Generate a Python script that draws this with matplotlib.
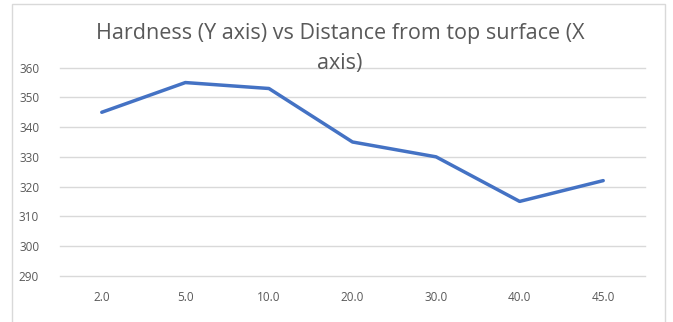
import matplotlib.pyplot as plt
from matplotlib.patches import Rectangle

distance_labels = ["2.0", "5.0", "10.0", "20.0", "30.0", "40.0", "45.0"]
hardness = [345, 355, 353, 335, 330, 315, 322]
y_ticks = [290, 300, 310, 320, 330, 340, 350, 360]

plt.rcParams['font.family'] = ['Open Sans', 'DejaVu Sans']

fig = plt.figure(figsize=(6.73, 3.22), dpi=100)

# chart area border (Excel style), bottom is cut off in the reference
fig.patches.append(Rectangle((12 / 673, -0.1), (665 - 12) / 673, 1.1 - 4 / 322,
                             transform=fig.transFigure, fill=False,
                             edgecolor='#d9d9d9', linewidth=1))

ax = fig.add_axes([60 / 673, (322 - 275.7) / 322, 585 / 673, 208 / 322])

x = list(range(len(distance_labels)))
ax.plot(x, hardness, color='#4472c4', linewidth=2.5, solid_capstyle='round',
        solid_joinstyle='round', zorder=3)

ax.set_xlim(-0.5, len(distance_labels) - 0.5)
ax.set_ylim(290, 360)
ax.set_xticks(x)
ax.set_xticklabels(distance_labels)
ax.set_yticks(y_ticks)
ax.grid(axis='y', color='#d9d9d9', linewidth=1)
for gl in ax.get_ygridlines():
    gl.set_clip_on(False)
ax.set_axisbelow(True)
for s in ax.spines.values():
    s.set_visible(False)
ax.tick_params(length=0, labelsize=8.5, labelcolor='#595959')
ax.tick_params(axis='x', pad=11)
ax.tick_params(axis='y', pad=15)

fig.text(0.505, 0.85, "Hardness (Y axis) vs Distance from top surface (X\naxis)",
         ha='center', va='center', fontsize=15.5, color='#595959', linespacing=1.55)

fig.savefig("out.png", dpi=100)
